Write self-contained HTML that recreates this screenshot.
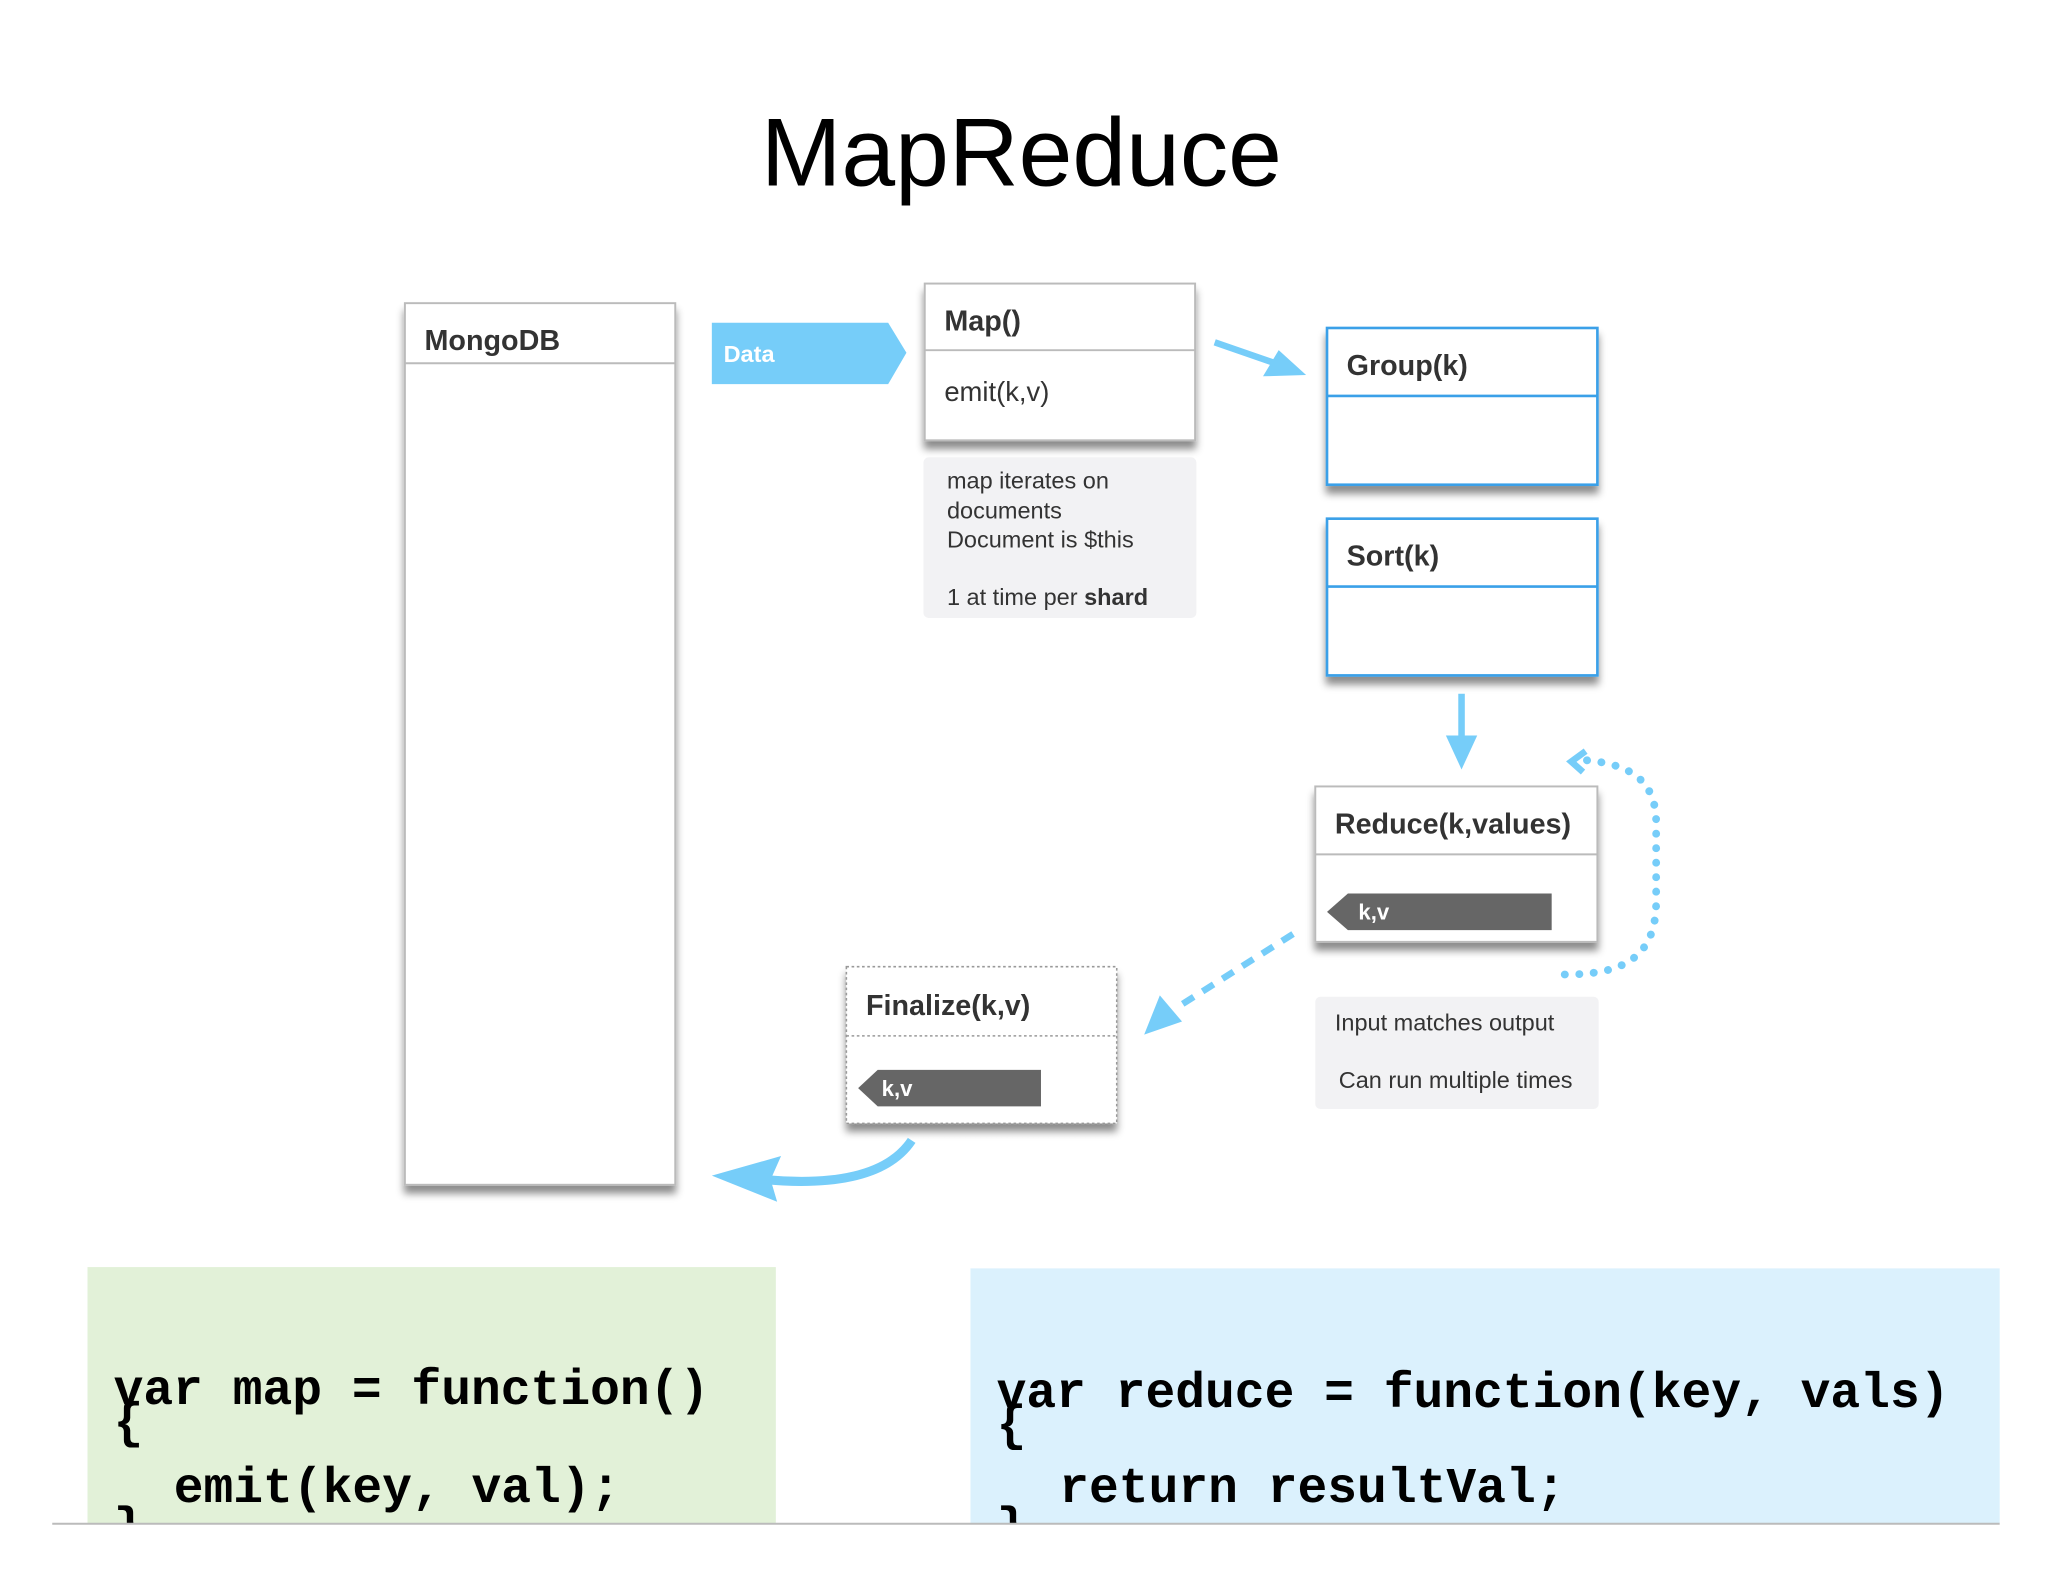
<!DOCTYPE html>
<html><head><meta charset="utf-8"><style>html,body{margin:0;padding:0;background:#fff}svg{display:block}</style></head>
<body>
<svg width="2048" height="1582" viewBox="0 0 1568 1211" xmlns="http://www.w3.org/2000/svg" font-family="Liberation Sans, sans-serif">
<defs>
<filter id="sh" x="-10%" y="-10%" width="120%" height="130%"><feDropShadow dx="0" dy="6" stdDeviation="3" flood-color="#000" flood-opacity="0.45"/></filter>
<clipPath id="cc"><rect x="0" y="960" width="1568" height="206"/></clipPath>
</defs>
<text x="782" y="142" font-size="74" text-anchor="middle" fill="#000">MapReduce</text>

<rect x="310" y="232" width="207" height="675" fill="#fff" stroke="#bbb" stroke-width="1.5" filter="url(#sh)"/>
<line x1="310" y1="278" x2="517" y2="278" stroke="#bbb" stroke-width="1.5"/>
<text x="325" y="268" font-size="22" font-weight="bold" fill="#333">MongoDB</text>

<polygon points="545,247 680,247 694,270 680,294 545,294" fill="#76cdf9"/>
<text x="554" y="277" font-size="18" font-weight="bold" fill="#fff">Data</text>

<rect x="708" y="217" width="207" height="120" fill="#fff" stroke="#bbb" stroke-width="1.5" filter="url(#sh)"/>
<line x1="708" y1="268" x2="915" y2="268" stroke="#bbb" stroke-width="1.5"/>
<text x="723" y="253" font-size="22" font-weight="bold" fill="#333">Map()</text>
<text x="723" y="307" font-size="21" fill="#333">emit(k,v)</text>

<rect x="707" y="350" width="209" height="123" rx="4" fill="#f2f2f4"/>
<g font-size="18" fill="#333"><text x="725" y="374">map iterates on</text><text x="725" y="397">documents</text><text x="725" y="419">Document is $this</text><text x="725" y="463">1 at time per <tspan font-weight="bold">shard</tspan></text></g>

<line x1="930" y1="262" x2="985" y2="281" stroke="#76cdf9" stroke-width="5"/>
<polygon points="1000,287 967,288 979,268" fill="#76cdf9"/>

<rect x="1016" y="251" width="207" height="120" fill="#fff" stroke="#3aa0e8" stroke-width="2" filter="url(#sh)"/>
<line x1="1016" y1="303" x2="1223" y2="303" stroke="#3aa0e8" stroke-width="2"/>
<text x="1031" y="287" font-size="22" font-weight="bold" fill="#333">Group(k)</text>

<rect x="1016" y="397" width="207" height="120" fill="#fff" stroke="#3aa0e8" stroke-width="2" filter="url(#sh)"/>
<line x1="1016" y1="449" x2="1223" y2="449" stroke="#3aa0e8" stroke-width="2"/>
<text x="1031" y="433" font-size="22" font-weight="bold" fill="#333">Sort(k)</text>

<line x1="1119" y1="531" x2="1119" y2="565" stroke="#76cdf9" stroke-width="5"/>
<polygon points="1107,563 1131,563 1119,589" fill="#76cdf9"/>

<rect x="1007" y="602" width="216" height="119" fill="#fff" stroke="#bbb" stroke-width="1.5" filter="url(#sh)"/>
<line x1="1007" y1="654" x2="1223" y2="654" stroke="#bbb" stroke-width="1.5"/>
<text x="1022" y="638" font-size="22" font-weight="bold" fill="#333">Reduce(k,values)</text>
<polygon points="1016,698 1032,684 1188,684 1188,712 1032,712" fill="#666"/>
<text x="1040" y="704" font-size="17" font-weight="bold" fill="#fff">k,v</text>

<path d="M1198,746 C1240,746 1268,735 1268,690 L1268,630 C1268,595 1245,585 1215,582" fill="none" stroke="#76cdf9" stroke-width="6" stroke-linecap="round" stroke-dasharray="0.1 11"/>
<polyline points="1214,575 1203,583 1212,591" fill="none" stroke="#76cdf9" stroke-width="5"/>

<rect x="1007" y="763" width="217" height="86" rx="4" fill="#f2f2f4"/>
<text x="1022" y="789" font-size="18" fill="#333">Input matches output</text>
<text x="1025" y="833" font-size="18" fill="#333">Can run multiple times</text>

<line x1="990" y1="715" x2="900" y2="772" stroke="#76cdf9" stroke-width="5" stroke-dasharray="10 8"/>
<polygon points="876,792 888,762 905,782" fill="#76cdf9"/>

<rect x="648" y="740" width="207" height="120" fill="#fff" stroke="#999" stroke-width="1.2" stroke-dasharray="2 2" filter="url(#sh)"/>
<line x1="648" y1="793" x2="855" y2="793" stroke="#999" stroke-width="1.2" stroke-dasharray="2 2"/>
<text x="663" y="777" font-size="22" font-weight="bold" fill="#333">Finalize(k,v)</text>
<polygon points="657,833 672,819 797,819 797,847 672,847" fill="#666"/>
<text x="675" y="839" font-size="17" font-weight="bold" fill="#fff">k,v</text>

<path d="M698,873 C680,900 640,908 585,903" fill="none" stroke="#76cdf9" stroke-width="7"/>
<polygon points="545,900 598,885 590,903 595,920" fill="#76cdf9"/>

<rect x="67" y="970" width="527" height="196" fill="#e2f1d8"/>
<rect x="743" y="971" width="788" height="195" fill="#dbf1fd"/>
<g clip-path="url(#cc)" font-family="Liberation Mono, monospace" font-weight="bold" font-size="38" fill="#000">
<text x="87" y="1075">var map = function()</text>
<text x="87" y="1100">{</text>
<text x="133" y="1150">emit(key, val);</text>
<text x="87" y="1180">}</text>
<text x="763" y="1077">var reduce = function(key, vals)</text>
<text x="763" y="1102">{</text>
<text x="811" y="1150">return resultVal;</text>
<text x="763" y="1180">}</text>
</g>
<line x1="40" y1="1166.5" x2="1531" y2="1166.5" stroke="#bbb" stroke-width="1.5"/>
</svg>
</body></html>
